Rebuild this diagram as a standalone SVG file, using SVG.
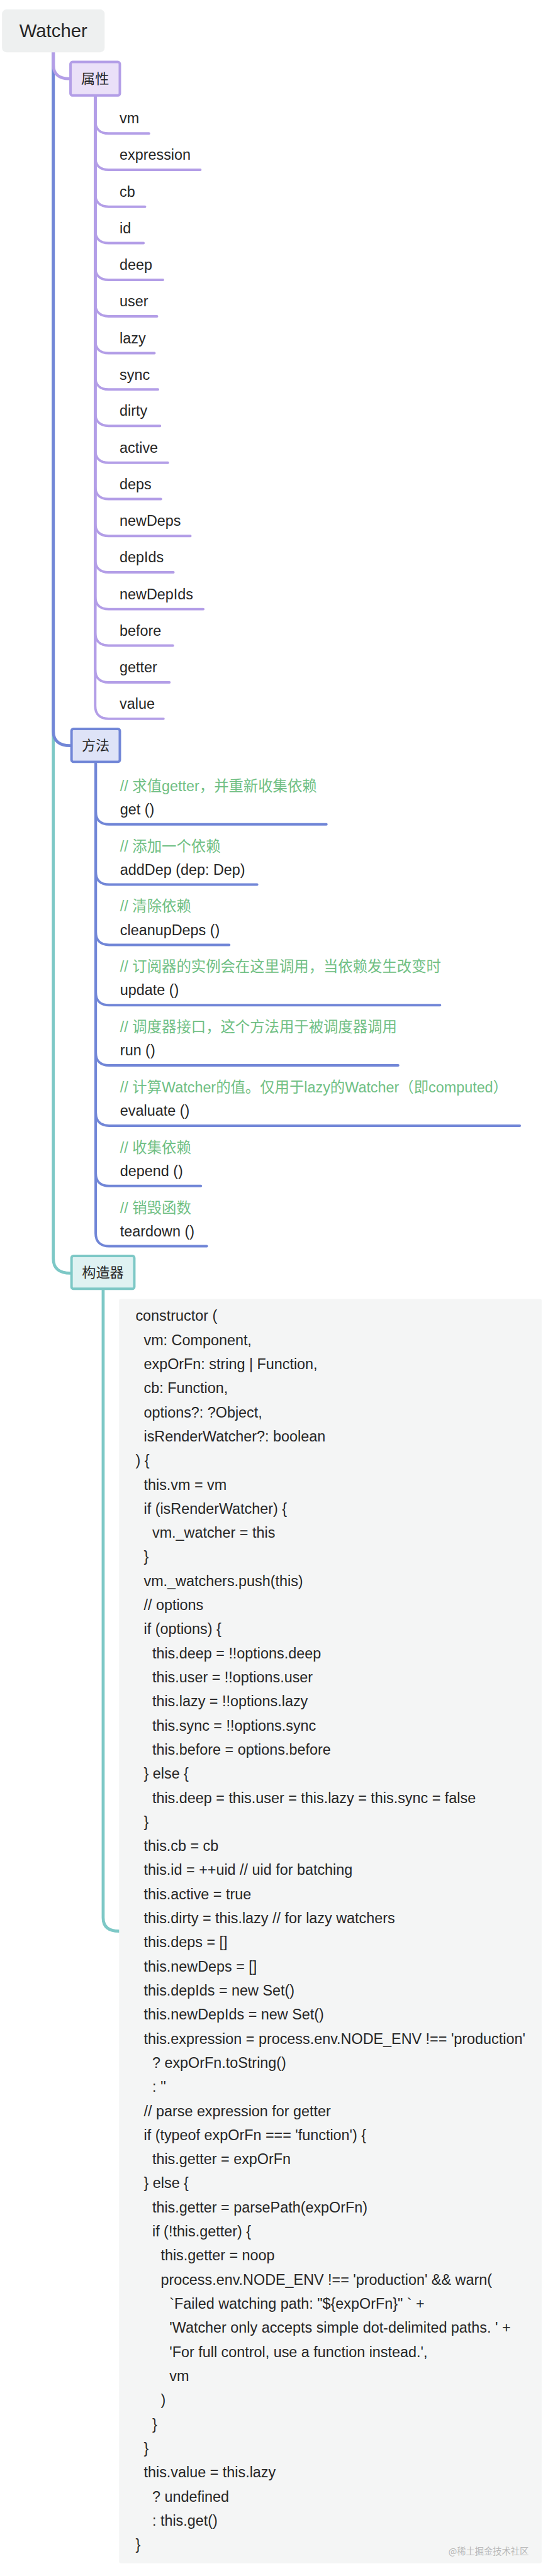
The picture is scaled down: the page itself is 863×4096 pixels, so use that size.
<svg xmlns="http://www.w3.org/2000/svg" width="863" height="4096" viewBox="0 0 863 4096">
<style>
.t{font-family:"Liberation Sans","Noto Sans CJK SC",sans-serif;font-size:29.5px;fill:#262626}
.cm{fill:#70bf84}
.lbl{font-family:"Noto Sans CJK SC","Liberation Sans",sans-serif;font-size:28px;fill:#262626;text-anchor:middle}
.root{font-size:37px;text-anchor:middle}
.pl{fill:none;stroke:#b39ee7;stroke-width:5;stroke-linecap:round}
.bl{fill:none;stroke:#7186d7;stroke-width:5;stroke-linecap:round}
.tl{fill:none;stroke:#7dc8c6;stroke-width:6;stroke-linecap:round}
.wm{font-family:"Noto Sans CJK SC",sans-serif;font-size:18px;fill:#b8b8b8}
</style>
<g transform="scale(0.792)">
<g id="connectors">
<path class="tl" d="M107,105 V2527 C107,2547 120,2556 141,2556"/>
<path class="bl" style="stroke-width:6" d="M107,105 V1468 C107,1488 120,1497 141,1497"/>
<path class="pl" style="stroke-width:6" d="M107,105 V130 C107,148 118,158 139,158"/>
<path class="tl" d="M207,2590 V3850 C207,3868 218,3877 239,3877"/>
<path class="pl" d="M191,194 V242 C191,259 201,268 218,268 H299"/>
<path class="pl" d="M191,194 V315 C191,332 201,341 218,341 H402"/>
<path class="pl" d="M191,194 V389 C191,406 201,415 218,415 H291"/>
<path class="pl" d="M191,194 V462 C191,479 201,488 218,488 H288"/>
<path class="pl" d="M191,194 V536 C191,553 201,562 218,562 H327"/>
<path class="pl" d="M191,194 V609 C191,626 201,635 218,635 H315"/>
<path class="pl" d="M191,194 V683 C191,700 201,709 218,709 H310"/>
<path class="pl" d="M191,194 V756 C191,773 201,782 218,782 H317"/>
<path class="pl" d="M191,194 V829 C191,846 201,855 218,855 H321"/>
<path class="pl" d="M191,194 V903 C191,920 201,929 218,929 H337"/>
<path class="pl" d="M191,194 V976 C191,993 201,1002 218,1002 H323"/>
<path class="pl" d="M191,194 V1050 C191,1067 201,1076 218,1076 H382"/>
<path class="pl" d="M191,194 V1123 C191,1140 201,1149 218,1149 H348"/>
<path class="pl" d="M191,194 V1197 C191,1214 201,1223 218,1223 H408"/>
<path class="pl" d="M191,194 V1270 C191,1287 201,1296 218,1296 H347"/>
<path class="pl" d="M191,194 V1344 C191,1361 201,1370 218,1370 H340"/>
<path class="pl" d="M191,194 V1417 C191,1434 201,1443 218,1443 H328"/>
<path class="bl" d="M192,1532 V1629 C192,1646 202,1655 219,1655 H655"/>
<path class="bl" d="M192,1532 V1750 C192,1767 202,1776 219,1776 H516"/>
<path class="bl" d="M192,1532 V1871 C192,1888 202,1897 219,1897 H460"/>
<path class="bl" d="M192,1532 V1992 C192,2009 202,2018 219,2018 H883"/>
<path class="bl" d="M192,1532 V2113 C192,2130 202,2139 219,2139 H799"/>
<path class="bl" d="M192,1532 V2234 C192,2251 202,2260 219,2260 H1043"/>
<path class="bl" d="M192,1532 V2355 C192,2372 202,2381 219,2381 H403"/>
<path class="bl" d="M192,1532 V2476 C192,2493 202,2502 219,2502 H415"/>
</g>
<g id="watcher">
<rect x="4" y="19" width="206" height="86" rx="9" fill="#eef0f0"/>
<text class="t root" x="107" y="74">Watcher</text>
</g>
<g id="shuxing">
<rect x="141.5" y="124.5" width="99" height="67" rx="4" fill="#eae0f8" stroke="#b39ee7" stroke-width="5"/>
<text class="lbl" x="191" y="168">属性</text>
</g>
<g id="props">
<text class="t" x="240" y="248">vm</text>
<text class="t" x="240" y="321">expression</text>
<text class="t" x="240" y="395">cb</text>
<text class="t" x="240" y="468">id</text>
<text class="t" x="240" y="542">deep</text>
<text class="t" x="240" y="615">user</text>
<text class="t" x="240" y="689">lazy</text>
<text class="t" x="240" y="762">sync</text>
<text class="t" x="240" y="835">dirty</text>
<text class="t" x="240" y="909">active</text>
<text class="t" x="240" y="982">deps</text>
<text class="t" x="240" y="1056">newDeps</text>
<text class="t" x="240" y="1129">depIds</text>
<text class="t" x="240" y="1203">newDepIds</text>
<text class="t" x="240" y="1276">before</text>
<text class="t" x="240" y="1350">getter</text>
<text class="t" x="240" y="1423">value</text>
</g>
<g id="fangfa">
<rect x="143.5" y="1463.5" width="97" height="66" rx="4" fill="#dee3f7" stroke="#7186d7" stroke-width="5"/>
<text class="lbl" x="192" y="1506">方法</text>
</g>
<g id="methods">
<text class="t cm" x="241" y="1588">// 求值getter，并重新收集依赖</text>
<text class="t" x="241" y="1635">get ()</text>
<text class="t cm" x="241" y="1709">// 添加一个依赖</text>
<text class="t" x="241" y="1756">addDep (dep: Dep)</text>
<text class="t cm" x="241" y="1830">// 清除依赖</text>
<text class="t" x="241" y="1877">cleanupDeps ()</text>
<text class="t cm" x="241" y="1951">// 订阅器的实例会在这里调用，当依赖发生改变时</text>
<text class="t" x="241" y="1998">update ()</text>
<text class="t cm" x="241" y="2072">// 调度器接口，这个方法用于被调度器调用</text>
<text class="t" x="241" y="2119">run ()</text>
<text class="t cm" x="241" y="2193">// 计算Watcher的值。仅用于lazy的Watcher（即computed）</text>
<text class="t" x="241" y="2240">evaluate ()</text>
<text class="t cm" x="241" y="2314">// 收集依赖</text>
<text class="t" x="241" y="2361">depend ()</text>
<text class="t cm" x="241" y="2435">// 销毁函数</text>
<text class="t" x="241" y="2482">teardown ()</text>
</g>
<g id="gouzaoqi">
<rect x="143.5" y="2521.5" width="126" height="66" rx="4" fill="#dff2f2" stroke="#7dc8c6" stroke-width="5"/>
<text class="lbl" x="206.5" y="2565">构造器</text>
</g>
<g id="code">
<rect x="239" y="2608" width="848" height="2538" rx="3" fill="#f4f5f5"/>
<text class="t" x="272" y="2652">constructor (</text>
<text class="t" x="288.5" y="2700.4">vm: Component,</text>
<text class="t" x="288.5" y="2748.7">expOrFn: string | Function,</text>
<text class="t" x="288.5" y="2797.1">cb: Function,</text>
<text class="t" x="288.5" y="2845.5">options?: ?Object,</text>
<text class="t" x="288.5" y="2893.9">isRenderWatcher?: boolean</text>
<text class="t" x="272" y="2942.2">) {</text>
<text class="t" x="288.5" y="2990.6">this.vm = vm</text>
<text class="t" x="288.5" y="3039">if (isRenderWatcher) {</text>
<text class="t" x="305.5" y="3087.3">vm._watcher = this</text>
<text class="t" x="288.5" y="3135.7">}</text>
<text class="t" x="288.5" y="3184.1">vm._watchers.push(this)</text>
<text class="t" x="288.5" y="3232.4">// options</text>
<text class="t" x="288.5" y="3280.8">if (options) {</text>
<text class="t" x="305.5" y="3329.2">this.deep = !!options.deep</text>
<text class="t" x="305.5" y="3377.6">this.user = !!options.user</text>
<text class="t" x="305.5" y="3425.9">this.lazy = !!options.lazy</text>
<text class="t" x="305.5" y="3474.3">this.sync = !!options.sync</text>
<text class="t" x="305.5" y="3522.7">this.before = options.before</text>
<text class="t" x="288.5" y="3571">} else {</text>
<text class="t" x="305.5" y="3619.4">this.deep = this.user = this.lazy = this.sync = false</text>
<text class="t" x="288.5" y="3667.8">}</text>
<text class="t" x="288.5" y="3716.1">this.cb = cb</text>
<text class="t" x="288.5" y="3764.5">this.id = ++uid // uid for batching</text>
<text class="t" x="288.5" y="3812.9">this.active = true</text>
<text class="t" x="288.5" y="3861.3">this.dirty = this.lazy // for lazy watchers</text>
<text class="t" x="288.5" y="3909.6">this.deps = []</text>
<text class="t" x="288.5" y="3958">this.newDeps = []</text>
<text class="t" x="288.5" y="4006.4">this.depIds = new Set()</text>
<text class="t" x="288.5" y="4054.7">this.newDepIds = new Set()</text>
<text class="t" x="288.5" y="4103.1">this.expression = process.env.NODE_ENV !== 'production'</text>
<text class="t" x="305.5" y="4151.5">? expOrFn.toString()</text>
<text class="t" x="305.5" y="4199.8">: ''</text>
<text class="t" x="288.5" y="4248.2">// parse expression for getter</text>
<text class="t" x="288.5" y="4296.6">if (typeof expOrFn === 'function') {</text>
<text class="t" x="305.5" y="4345">this.getter = expOrFn</text>
<text class="t" x="288.5" y="4393.3">} else {</text>
<text class="t" x="305.5" y="4441.7">this.getter = parsePath(expOrFn)</text>
<text class="t" x="305.5" y="4490.1">if (!this.getter) {</text>
<text class="t" x="322.5" y="4538.4">this.getter = noop</text>
<text class="t" x="322.5" y="4586.8">process.env.NODE_ENV !== 'production' &amp;&amp; warn(</text>
<text class="t" x="340" y="4635.2">`Failed watching path: "${expOrFn}" ` +</text>
<text class="t" x="340" y="4683.5">'Watcher only accepts simple dot-delimited paths. ' +</text>
<text class="t" x="340" y="4731.9">'For full control, use a function instead.',</text>
<text class="t" x="340" y="4780.3">vm</text>
<text class="t" x="322.5" y="4828.7">)</text>
<text class="t" x="305.5" y="4877">}</text>
<text class="t" x="288.5" y="4925.4">}</text>
<text class="t" x="288.5" y="4973.8">this.value = this.lazy</text>
<text class="t" x="305.5" y="5022.1">? undefined</text>
<text class="t" x="305.5" y="5070.5">: this.get()</text>
<text class="t" x="272" y="5118.9">}</text>
<text class="wm" x="900" y="5129">@稀土掘金技术社区</text>
</g>
</g>
</svg>
